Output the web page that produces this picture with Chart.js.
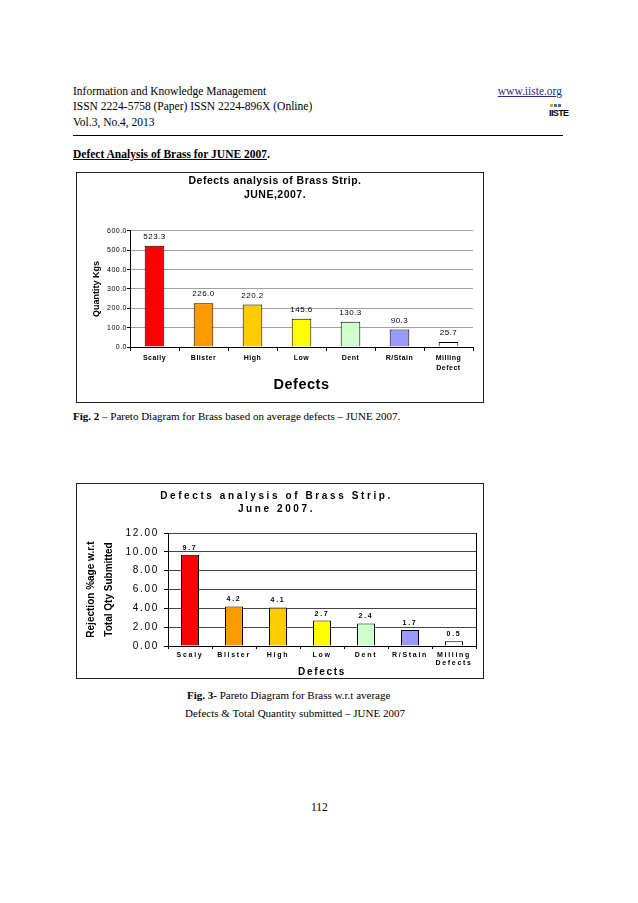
<!DOCTYPE html>
<html>
<head>
<meta charset="utf-8">
<script src="https://cdn.jsdelivr.net/npm/chart.js@4.4.0/dist/chart.umd.min.js"></script>
<style>
  body { margin: 0; background: #fff; }
  #page { position: relative; width: 638px; height: 903px; font-family: "Liberation Serif", serif; color: #000; overflow: hidden; }
  .t { position: absolute; white-space: nowrap; font-size: 11.5px; line-height: 14px; }
  .box { position: absolute; border: 1px solid #222; box-sizing: border-box; background: #fff; }
  .box canvas { display: block; }
  .logo { position: absolute; left: 549px; top: 104px; width: 14px; height: 15px; }
  .logo i { position: absolute; top: 0; width: 3px; height: 3px; }
  .logo b { position: absolute; left: 0; top: 4px; font: bold 9px/10px "Liberation Sans", sans-serif; letter-spacing: -0.6px; }
</style>
</head>
<body>
<div id="page">
  <div class="t" style="left:73px; top:84px">Information and Knowledge Management</div>
  <div class="t" style="left:73px; top:99px">ISSN 2224-5758 (Paper) ISSN 2224-896X (Online)</div>
  <div class="t" style="left:73px; top:115px">Vol.3, No.4, 2013</div>
  <div class="t" style="right:76px; top:84px; color:#2b2b8f; text-decoration:underline">www.iiste.org</div>
  <div class="logo">
    <i style="left:1px; background:#e8a317"></i><i style="left:5px; background:#3a6fb5"></i><i style="left:9px; background:#3a6fb5"></i>
    <b>IISTE</b>
  </div>
  <div style="position:absolute; left:73px; top:135px; width:490px; height:1px; background:#000"></div>
  <div class="t" style="left:73px; top:147px; font-weight:bold"><u>Defect Analysis of Brass for JUNE 2007</u>.</div>

  <div class="box" style="left:76px; top:172px; width:408px; height:231px">
    <canvas id="graficoKg"></canvas>
  </div>
  <div class="t" style="left:73px; top:409px; font-size:11px"><b>Fig. 2</b> &ndash; Pareto Diagram for Brass based on average defects &ndash; JUNE 2007.</div>

  <div class="box" style="left:76px; top:483px; width:408px; height:196px">
    <canvas id="graficoPct"></canvas>
  </div>
  <div class="t" style="left:187px; top:688px; font-size:11px"><b>Fig. 3-</b> Pareto Diagram for Brass w.r.t average</div>
  <div class="t" style="left:185px; top:706px; font-size:11px">Defects &amp; Total Quantity submitted &ndash; JUNE 2007</div>

  <div class="t" style="left:311px; top:800px">112</div>
</div>

<script>
// Defects of brass strip, June 2007
const defectsKg = ['Scally', 'Blister', 'High', 'Low', 'Dent', 'R/Stain', ['Milling', 'Defect']];
const qtyKg = [523.3, 226.0, 220.2, 145.6, 130.3, 90.3, 25.7];

const defectsPct = ['Scaly', 'Blister', 'High', 'Low', 'Dent', 'R/Stain', ['Milling', 'Defects']];
const rejectionPct = [9.7, 4.2, 4.1, 2.7, 2.4, 1.7, 0.5];

const barColors = ['#ff0000', '#ff9900', '#ffcc00', '#ffff00', '#ccffcc', '#9999ff', '#ffffff'];

const FONT = '"Liberation Sans", Arial, sans-serif';

// numbers above the bars
function valueLabels(decimals, font, gap) {
    return {
        id: 'valueLabels',
        afterDatasetsDraw(chart) {
            const ctx = chart.ctx;
            const values = chart.data.datasets[0].data;
            ctx.save();
            ctx.font = font;
            ctx.fillStyle = '#000';
            ctx.textAlign = 'center';
            ctx.textBaseline = 'middle';
            chart.getDatasetMeta(0).data.forEach((bar, i) => {
                ctx.fillText(values[i].toFixed(decimals), bar.x, bar.y - gap);
            });
            ctx.restore();
        }
    };
}

// run one draw method with its own letter spacing
function wrapSpacing(obj, name, px) {
    if (!obj || obj['_sp_' + name]) return;
    const orig = obj[name].bind(obj);
    obj[name] = function (...args) {
        const ctx = obj.ctx;
        const old = ctx.letterSpacing;
        ctx.letterSpacing = px;
        orig(...args);
        ctx.letterSpacing = old;
    };
    obj['_sp_' + name] = true;
}

// letter spacing for the whole chart, with separate values for title and y title
function spaced(all, titlePx, yTitlePx) {
    return {
        id: 'spaced',
        beforeLayout(chart) { chart.ctx.letterSpacing = all; },
        afterLayout(chart) {
            wrapSpacing(chart.scales.y, 'drawTitle', yTitlePx);
            wrapSpacing(chart.titleBlock, 'draw', titlePx);
        },
        beforeDraw(chart) { chart.ctx.letterSpacing = all; }
    };
}

Chart.defaults.font.family = FONT;
Chart.defaults.color = '#000';

const graf1 = document.getElementById('graficoKg');

new Chart(graf1, {
    type: 'bar',

    data: {
        labels: defectsKg,
        datasets: [{
            label: 'Quantity Kgs',
            data: qtyKg,
            backgroundColor: barColors,
            borderColor: '#000',
            borderWidth: 1,
            categoryPercentage: 1,
            barPercentage: 0.4,
        }],
    },

    options: {
        responsive: true,
        maintainAspectRatio: false,
        animation: false,
        layout: { padding: { left: 0, right: 10, top: 0, bottom: 0 } },

        plugins: {
            legend: { display: false },
            tooltip: { enabled: false },
            title: {
                display: true,
                text: ['Defects analysis of Brass Strip.', 'JUNE,2007.'],
                font: { size: 10.5, weight: 'bold', lineHeight: 1.33 },
                color: '#000',
                padding: { top: 1, bottom: 29 },
            },
        },

        scales: {
            x: {
                afterFit: (s) => { s.height = 55; },
                grid: { offset: true, drawOnChartArea: false, tickLength: 4, color: '#000' },
                border: { color: '#000' },
                ticks: { font: { size: 7, weight: 'bold', lineHeight: 1.4 }, padding: 2, maxRotation: 0, autoSkip: false },
                title: {
                    display: true,
                    text: 'Defects',
                    font: { size: 14.5, weight: 'bold' },
                    padding: { top: 0, bottom: 8 },
                },
            },
            y: {
                min: 0,
                max: 600,
                afterFit: (s) => { s.width = 53; },
                grid: { color: '#a0a0a0', tickColor: '#000', tickLength: 3 },
                border: { color: '#000' },
                ticks: {
                    stepSize: 100,
                    font: { size: 7 },
                    padding: 0,
                    callback: (v) => v.toFixed(1),
                },
                title: {
                    display: true,
                    text: 'Quantity Kgs',
                    font: { size: 9, weight: 'bold' },
                    padding: { top: 14.5, bottom: 0 },
                },
            },
        },
    },

    plugins: [spaced('0.5px', '0.5px', '0px'), valueLabels(1, '8px ' + FONT, 9)],
});


const graf2 = document.getElementById('graficoPct');

new Chart(graf2, {
    type: 'bar',

    data: {
        labels: defectsPct,
        datasets: [{
            label: 'Rejection %',
            data: rejectionPct,
            backgroundColor: barColors,
            borderColor: '#000',
            borderWidth: 1,
            categoryPercentage: 1,
            barPercentage: 0.41,
        }],
    },

    options: {
        responsive: true,
        maintainAspectRatio: false,
        animation: false,
        layout: { padding: { left: 0, right: 7, top: 0, bottom: 0 } },

        plugins: {
            legend: { display: false },
            tooltip: { enabled: false },
            title: {
                display: true,
                text: ['Defects analysis of Brass Strip.', 'June 2007.'],
                font: { size: 10, weight: 'bold', lineHeight: 1.3 },
                color: '#000',
                padding: { top: 5.5, bottom: 17.5 },
            },
        },

        scales: {
            x: {
                afterFit: (s) => { s.height = 32; },
                grid: { offset: true, drawOnChartArea: false, tickLength: 3, color: '#000' },
                border: { color: '#000' },
                ticks: { font: { size: 7, weight: 'bold', lineHeight: 1.15 }, padding: 2, maxRotation: 0, autoSkip: false },
                title: {
                    display: true,
                    text: 'Defects',
                    font: { size: 10, weight: 'bold' },
                    padding: { top: 0, bottom: 0 },
                },
            },
            y: {
                min: 0,
                max: 12,
                afterFit: (s) => { s.width = 91; },
                grid: { color: '#444', tickColor: '#000', tickLength: 4 },
                border: { color: '#000' },
                ticks: {
                    stepSize: 2,
                    font: { size: 10 },
                    padding: 5,
                    callback: (v) => v.toFixed(2),
                },
                title: {
                    display: true,
                    text: ['Rejection %age w.r.t', 'Total Qty Submitted'],
                    font: { size: 10, weight: 'bold', lineHeight: 1.8 },
                    padding: { top: 5, bottom: 0 },
                },
            },
            y2: {
                position: 'right',
                grid: { drawOnChartArea: false, drawTicks: false },
                border: { color: '#000' },
                ticks: { display: false },
            },
        },
    },

    plugins: [spaced('1.7px', '2.6px', '0px'), valueLabels(1, 'bold 7px ' + FONT, 7)],
});
</script>
</body>
</html>
